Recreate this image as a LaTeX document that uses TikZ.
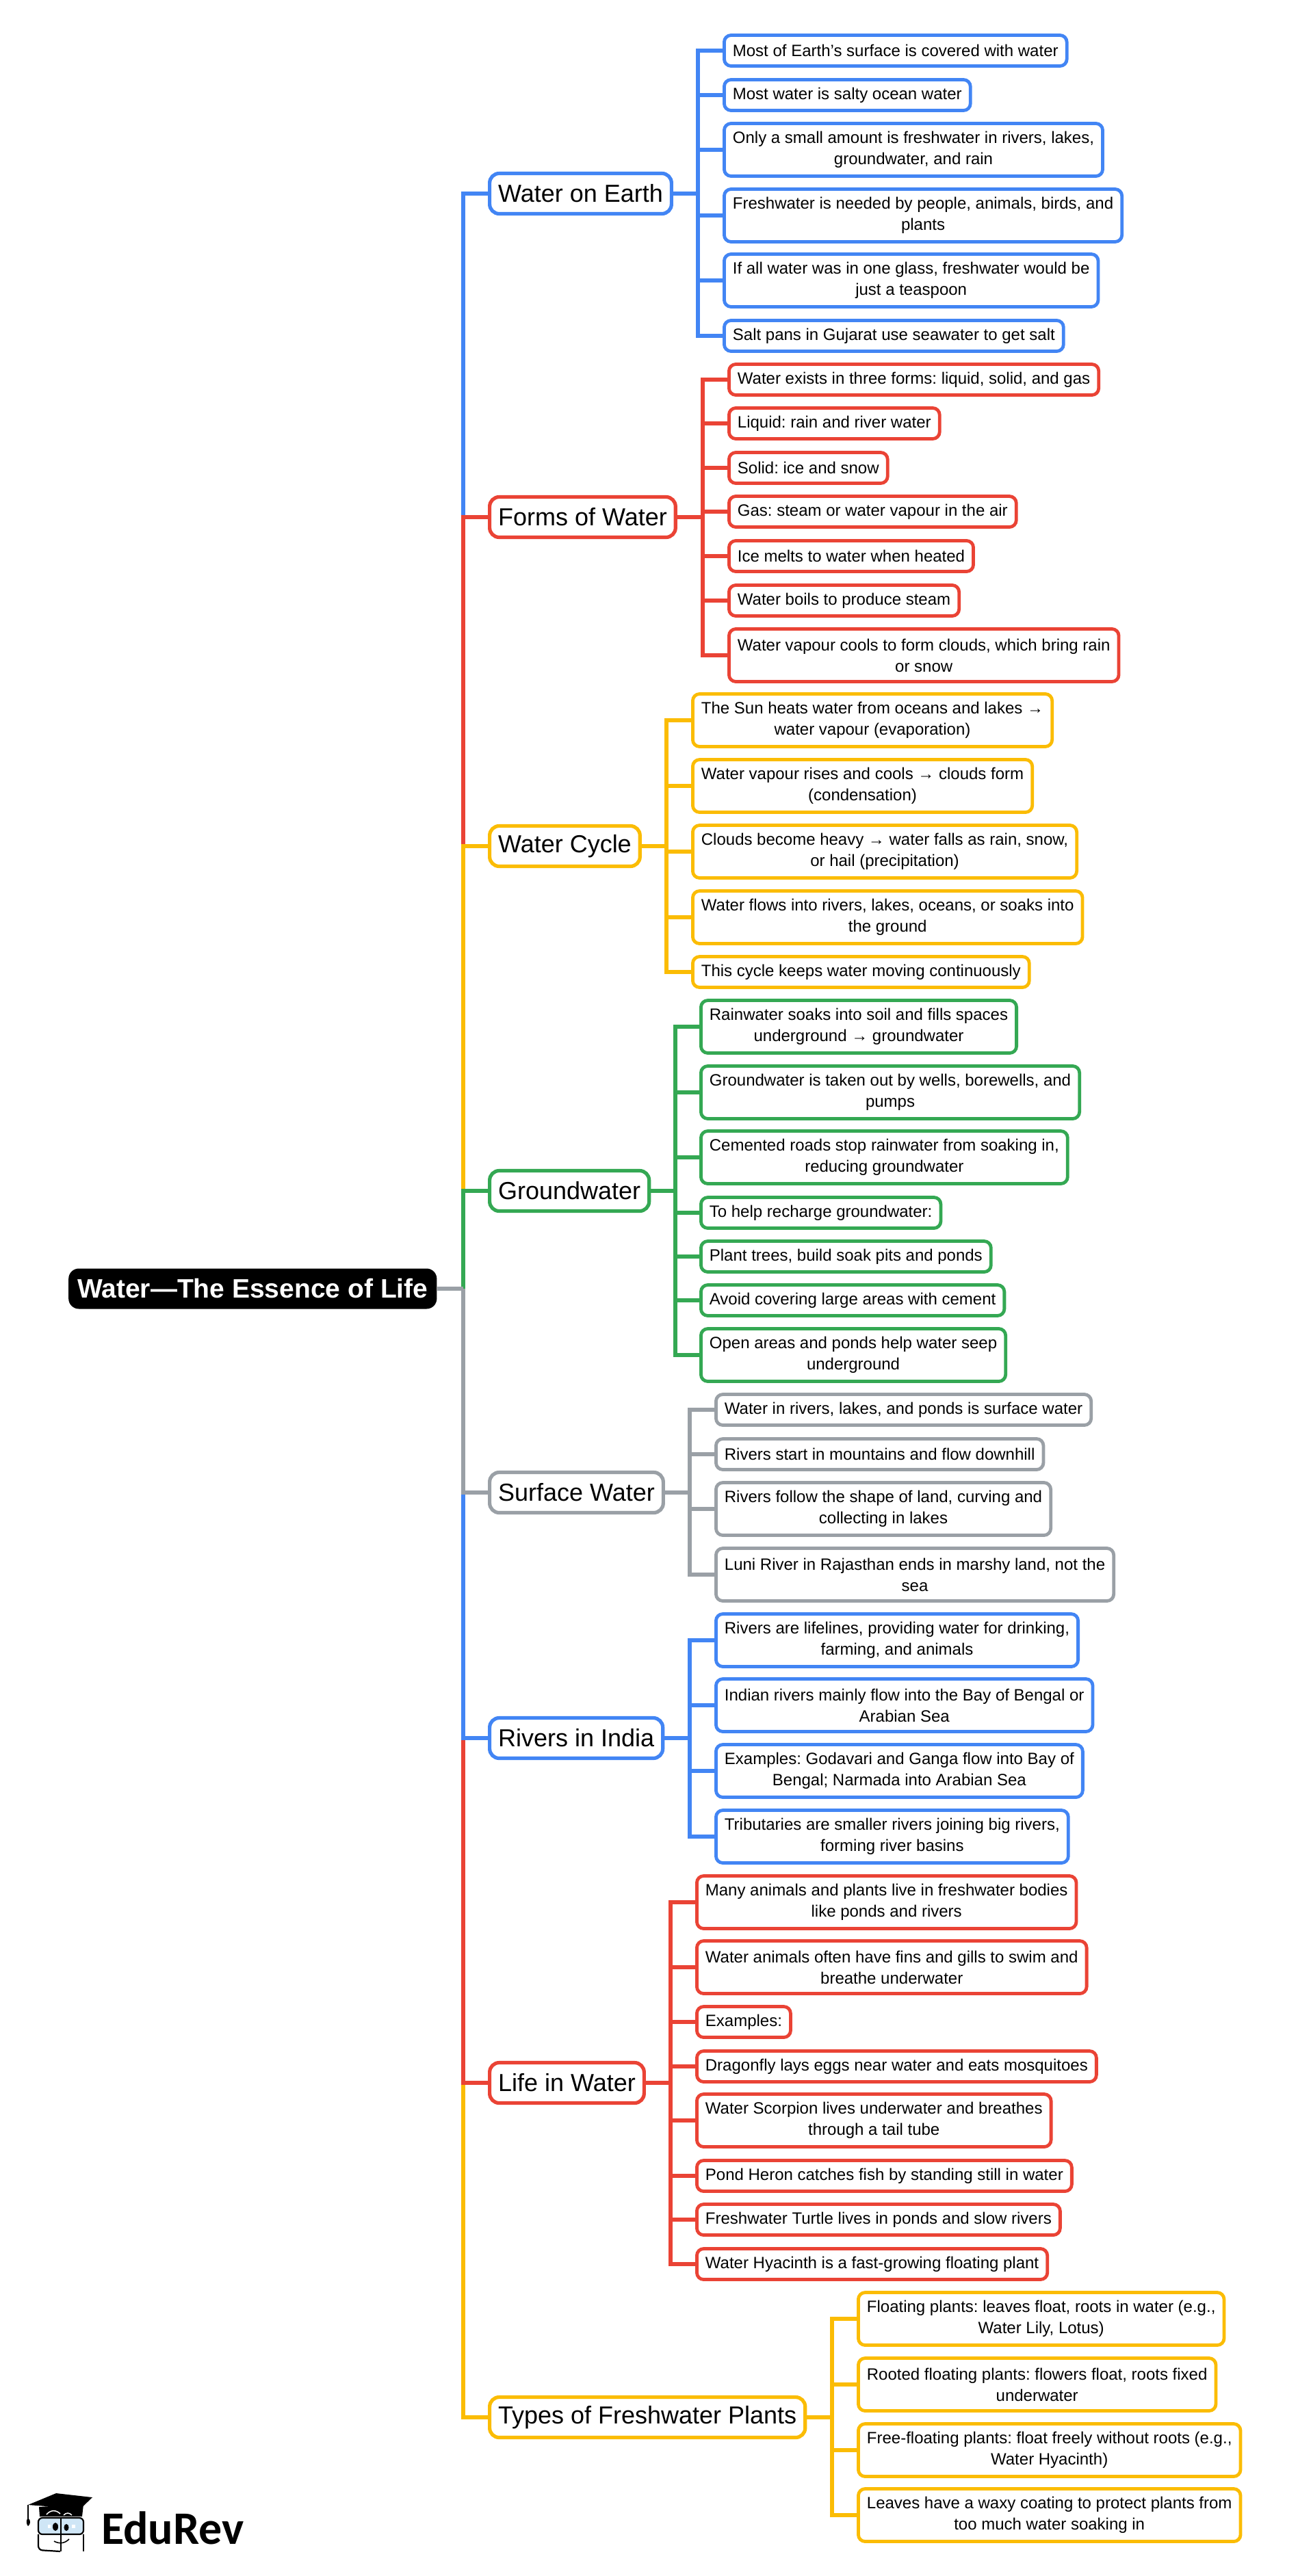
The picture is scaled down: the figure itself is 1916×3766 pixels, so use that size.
\documentclass[tikz,border=0pt]{standalone}
\usepackage{fontspec}
\setmainfont{Liberation Sans}
\newfontfamily\logofont{Carlito}
\frenchspacing
\definecolor{mapblue}{HTML}{4285F4}
\definecolor{mapred}{HTML}{EA4335}
\definecolor{mapyellow}{HTML}{FBBC04}
\definecolor{mapgreen}{HTML}{34A853}
\definecolor{mapgray}{HTML}{9AA0A6}
\definecolor{lensblue}{HTML}{CFE6F6}
\tikzset{
    rootbox/.style={fill=black, text=white, rounded corners=15pt, inner xsep=13pt, inner ysep=2pt, minimum height=59pt, anchor=west, font=\fontsize{39}{46}\selectfont\bfseries},
    topic/.style={draw=#1, fill=white, line width=5.2pt, rounded corners=14pt, inner xsep=12.5pt, inner ysep=2pt, minimum height=59pt, anchor=west, font=\fontsize{36}{42}\selectfont},
    leaf/.style={draw=#1, fill=white, line width=4.8pt, rounded corners=10pt, inner xsep=12.5pt, inner ysep=2pt, minimum height=45pt, anchor=west, align=center, font=\fontsize{24}{31}\selectfont},
    leaftwo/.style={leaf=#1, minimum height=77pt},
    link/.style={draw=#1, line width=6.5pt},
    logoline/.style={draw=black, line width=2.2pt}
}
\begin{document}
\begin{tikzpicture}[x=1pt, y=-1pt]
    \useasboundingbox (0,-1) rectangle (1916,3765);

    \node[rootbox] (root) at (100,1883) {Water—The Essence of Life};
    \coordinate (trunk) at (677,1883);

    \node[topic=mapblue] (earth) at (713,282) {Water on Earth};
    \node[topic=mapred] (forms) at (713,755) {Forms of Water};
    \node[topic=mapyellow] (cycle) at (713,1236) {Water Cycle};
    \node[topic=mapgreen] (ground) at (713,1740) {Groundwater};
    \node[topic=mapgray] (surface) at (713,2181) {Surface Water};
    \node[topic=mapblue] (rivers) at (713,2540) {Rivers in India};
    \node[topic=mapred] (life) at (713,3044) {Life in Water};
    \node[topic=mapyellow] (plants) at (713,3533) {Types of Freshwater Plants};

    \node[leaf=mapblue] (earth1) at (1056,73) {Most of Earth's surface is covered with water};
    \node[leaf=mapblue] (earth2) at (1056,138) {Most water is salty ocean water};
    \node[leaftwo=mapblue] (earth3) at (1056,218) {Only a small amount is freshwater in rivers, lakes,\\groundwater, and rain};
    \node[leaftwo=mapblue] (earth4) at (1056,314) {Freshwater is needed by people, animals, birds, and\\plants};
    \node[leaftwo=mapblue] (earth5) at (1056,409) {If all water was in one glass, freshwater would be\\just a teaspoon};
    \node[leaf=mapblue] (earth6) at (1056,490) {Salt pans in Gujarat use seawater to get salt};

    \node[leaf=mapred] (forms1) at (1063,554) {Water exists in three forms: liquid, solid, and gas};
    \node[leaf=mapred] (forms2) at (1063,618) {Liquid: rain and river water};
    \node[leaf=mapred] (forms3) at (1063,683) {Solid: ice and snow};
    \node[leaf=mapred] (forms4) at (1063,747) {Gas: steam or water vapour in the air};
    \node[leaf=mapred] (forms5) at (1063,812) {Ice melts to water when heated};
    \node[leaf=mapred] (forms6) at (1063,877) {Water boils to produce steam};
    \node[leaftwo=mapred] (forms7) at (1063,957) {Water vapour cools to form clouds, which bring rain\\or snow};

    \node[leaftwo=mapyellow] (cycle1) at (1010,1052) {The Sun heats water from oceans and lakes →\\water vapour (evaporation)};
    \node[leaftwo=mapyellow] (cycle2) at (1010,1148) {Water vapour rises and cools → clouds form\\(condensation)};
    \node[leaftwo=mapyellow] (cycle3) at (1010,1244) {Clouds become heavy → water falls as rain, snow,\\or hail (precipitation)};
    \node[leaftwo=mapyellow] (cycle4) at (1010,1340) {Water flows into rivers, lakes, oceans, or soaks into\\the ground};
    \node[leaf=mapyellow] (cycle5) at (1010,1420) {This cycle keeps water moving continuously};

    \node[leaftwo=mapgreen] (ground1) at (1022,1500) {Rainwater soaks into soil and fills spaces\\underground → groundwater};
    \node[leaftwo=mapgreen] (ground2) at (1022,1596) {Groundwater is taken out by wells, borewells, and\\pumps};
    \node[leaftwo=mapgreen] (ground3) at (1022,1691) {Cemented roads stop rainwater from soaking in,\\reducing groundwater};
    \node[leaf=mapgreen] (ground4) at (1022,1772) {To help recharge groundwater:};
    \node[leaf=mapgreen] (ground5) at (1022,1836) {Plant trees, build soak pits and ponds};
    \node[leaf=mapgreen] (ground6) at (1022,1900) {Avoid covering large areas with cement};
    \node[leaftwo=mapgreen] (ground7) at (1022,1980) {Open areas and ponds help water seep\\underground};

    \node[leaf=mapgray] (surface1) at (1044,2060) {Water in rivers, lakes, and ponds is surface water};
    \node[leaf=mapgray] (surface2) at (1044,2125) {Rivers start in mountains and flow downhill};
    \node[leaftwo=mapgray] (surface3) at (1044,2205) {Rivers follow the shape of land, curving and\\collecting in lakes};
    \node[leaftwo=mapgray] (surface4) at (1044,2301) {Luni River in Rajasthan ends in marshy land, not the\\sea};

    \node[leaftwo=mapblue] (rivers1) at (1044,2397) {Rivers are lifelines, providing water for drinking,\\farming, and animals};
    \node[leaftwo=mapblue] (rivers2) at (1044,2492) {Indian rivers mainly flow into the Bay of Bengal or\\Arabian Sea};
    \node[leaftwo=mapblue] (rivers3) at (1044,2588) {Examples: Godavari and Ganga flow into Bay of\\Bengal; Narmada into Arabian Sea};
    \node[leaftwo=mapblue] (rivers4) at (1044,2684) {Tributaries are smaller rivers joining big rivers,\\forming river basins};

    \node[leaftwo=mapred] (life1) at (1016,2780) {Many animals and plants live in freshwater bodies\\like ponds and rivers};
    \node[leaftwo=mapred] (life2) at (1016,2875) {Water animals often have fins and gills to swim and\\breathe underwater};
    \node[leaf=mapred] (life3) at (1016,2955) {Examples:};
    \node[leaf=mapred] (life4) at (1016,3020) {Dragonfly lays eggs near water and eats mosquitoes};
    \node[leaftwo=mapred] (life5) at (1016,3099) {Water Scorpion lives underwater and breathes\\through a tail tube};
    \node[leaf=mapred] (life6) at (1016,3180) {Pond Heron catches fish by standing still in water};
    \node[leaf=mapred] (life7) at (1016,3244) {Freshwater Turtle lives in ponds and slow rivers};
    \node[leaf=mapred] (life8) at (1016,3309) {Water Hyacinth is a fast-growing floating plant};

    \node[leaftwo=mapyellow] (plants1) at (1252,3389) {Floating plants: leaves float, roots in water (e.g.,\\Water Lily, Lotus)};
    \node[leaftwo=mapyellow] (plants2) at (1252,3485) {Rooted floating plants: flowers float, roots fixed\\underwater};
    \node[leaftwo=mapyellow] (plants3) at (1252,3581) {Free-floating plants: float freely without roots (e.g.,\\Water Hyacinth)};
    \node[leaftwo=mapyellow] (plants4) at (1252,3676) {Leaves have a waxy coating to protect plants from\\too much water soaking in};

    \draw[link=mapblue] (trunk) |- (earth.west);
    \draw[link=mapred] (trunk) |- (forms.west);
    \draw[link=mapyellow] (trunk) |- (cycle.west);
    \draw[link=mapgreen] (trunk) |- (ground.west);
    \draw[link=mapyellow] (trunk) |- (plants.west);
    \draw[link=mapred] (trunk) |- (life.west);
    \draw[link=mapblue] (trunk) |- (rivers.west);
    \draw[link=mapgray] (trunk) |- (surface.west);
    \draw[link=mapgray] (root.east) -- (trunk);

    \coordinate (earthspine) at (1020,282);
    \draw[link=mapblue] (earth.east) -- (earthspine);
    \draw[link=mapblue] (earthspine) |- (earth1.west);
    \draw[link=mapblue] (earthspine) |- (earth2.west);
    \draw[link=mapblue] (earthspine) |- (earth3.west);
    \draw[link=mapblue] (earthspine) |- (earth4.west);
    \draw[link=mapblue] (earthspine) |- (earth5.west);
    \draw[link=mapblue] (earthspine) |- (earth6.west);

    \coordinate (formsspine) at (1027,755);
    \draw[link=mapred] (forms.east) -- (formsspine);
    \draw[link=mapred] (formsspine) |- (forms1.west);
    \draw[link=mapred] (formsspine) |- (forms2.west);
    \draw[link=mapred] (formsspine) |- (forms3.west);
    \draw[link=mapred] (formsspine) |- (forms4.west);
    \draw[link=mapred] (formsspine) |- (forms5.west);
    \draw[link=mapred] (formsspine) |- (forms6.west);
    \draw[link=mapred] (formsspine) |- (forms7.west);

    \coordinate (cyclespine) at (974,1236);
    \draw[link=mapyellow] (cycle.east) -- (cyclespine);
    \draw[link=mapyellow] (cyclespine) |- (cycle1.west);
    \draw[link=mapyellow] (cyclespine) |- (cycle2.west);
    \draw[link=mapyellow] (cyclespine) |- (cycle3.west);
    \draw[link=mapyellow] (cyclespine) |- (cycle4.west);
    \draw[link=mapyellow] (cyclespine) |- (cycle5.west);

    \coordinate (groundspine) at (987,1740);
    \draw[link=mapgreen] (ground.east) -- (groundspine);
    \draw[link=mapgreen] (groundspine) |- (ground1.west);
    \draw[link=mapgreen] (groundspine) |- (ground2.west);
    \draw[link=mapgreen] (groundspine) |- (ground3.west);
    \draw[link=mapgreen] (groundspine) |- (ground4.west);
    \draw[link=mapgreen] (groundspine) |- (ground5.west);
    \draw[link=mapgreen] (groundspine) |- (ground6.west);
    \draw[link=mapgreen] (groundspine) |- (ground7.west);

    \coordinate (surfacespine) at (1008,2181);
    \draw[link=mapgray] (surface.east) -- (surfacespine);
    \draw[link=mapgray] (surfacespine) |- (surface1.west);
    \draw[link=mapgray] (surfacespine) |- (surface2.west);
    \draw[link=mapgray] (surfacespine) |- (surface3.west);
    \draw[link=mapgray] (surfacespine) |- (surface4.west);

    \coordinate (riversspine) at (1008,2540);
    \draw[link=mapblue] (rivers.east) -- (riversspine);
    \draw[link=mapblue] (riversspine) |- (rivers1.west);
    \draw[link=mapblue] (riversspine) |- (rivers2.west);
    \draw[link=mapblue] (riversspine) |- (rivers3.west);
    \draw[link=mapblue] (riversspine) |- (rivers4.west);

    \coordinate (lifespine) at (980,3044);
    \draw[link=mapred] (life.east) -- (lifespine);
    \draw[link=mapred] (lifespine) |- (life1.west);
    \draw[link=mapred] (lifespine) |- (life2.west);
    \draw[link=mapred] (lifespine) |- (life3.west);
    \draw[link=mapred] (lifespine) |- (life4.west);
    \draw[link=mapred] (lifespine) |- (life5.west);
    \draw[link=mapred] (lifespine) |- (life6.west);
    \draw[link=mapred] (lifespine) |- (life7.west);
    \draw[link=mapred] (lifespine) |- (life8.west);

    \coordinate (plantsspine) at (1216,3533);
    \draw[link=mapyellow] (plants.east) -- (plantsspine);
    \draw[link=mapyellow] (plantsspine) |- (plants1.west);
    \draw[link=mapyellow] (plantsspine) |- (plants2.west);
    \draw[link=mapyellow] (plantsspine) |- (plants3.west);
    \draw[link=mapyellow] (plantsspine) |- (plants4.west);

    \node[anchor=west, inner sep=0pt, font=\fontsize{68}{80}\selectfont\logofont\bfseries] (logotext) at (148,3695) {EduRev};
    \fill[black] (57,3664) -- (122,3660) -- (120,3678) -- (58,3678) -- cycle;
    \fill[black] (41,3661) -- (82,3644) -- (135,3650) -- (110,3674) -- (82,3664) -- cycle;
    \draw[white, line width=1.5pt] (68,3675) .. controls (74,3668) and (82,3668) .. (88,3674);
    \draw[white, line width=1.5pt] (93,3676) .. controls (97,3672) and (101,3672) .. (105,3676);
    \draw[black, line width=1.5pt] (41,3661) -- (41,3682);
    \fill[black] (41,3680) .. controls (37,3684) and (39,3690) .. (41,3692) .. controls (44,3690) and (46,3684) .. (41,3680) -- cycle;
    \draw[logoline, fill=lensblue, rounded corners=6pt] (56,3680) rectangle (122,3704);
    \draw[logoline, rounded corners=6pt] (56,3704) -- (56,3727) -- (88,3729);
    \draw[logoline, rounded corners=6pt] (122,3704) -- (122,3729);
    \draw[logoline] (89,3680) -- (89,3729);
    \fill[black] (81,3693) ellipse (4pt and 6pt);
    \fill[black] (97,3694) ellipse (3.5pt and 5pt);
    \fill[white] (70,3690) rectangle (74,3695);
    \fill[white] (105,3690) rectangle (110,3695);
    \draw[logoline, line width=1.6pt] (79,3714) .. controls (86,3718) and (94,3718) .. (101,3711);
\end{tikzpicture}
\end{document}
